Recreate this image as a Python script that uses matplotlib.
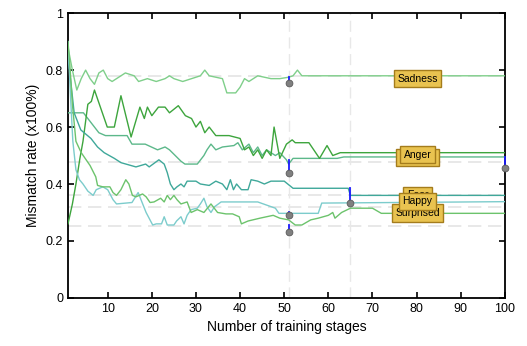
import matplotlib
matplotlib.use("Agg")
import matplotlib.pyplot as plt

plt.rcParams['font.family'] = ['Liberation Sans', 'DejaVu Sans']

# ---- data ----
sad_x = [1, 2, 3, 4, 5, 6, 7, 8, 9, 10, 11, 12, 14, 16, 17, 19, 21, 23, 24, 25,
         27, 29, 31, 32, 33, 36, 37, 39, 40, 41, 42, 44, 47, 49, 51, 52, 53, 54, 100]
sad_y = [.88, .80, .73, .77, .80, .77, .75, .79, .80, .77, .76, .77, .79, .78, .76, .77, .76, .77, .78, .77,
         .76, .77, .78, .80, .78, .77, .72, .72, .74, .77, .76, .78, .77, .77, .775, .78, .80, .78, .78]

ang_x = [1, 2, 2.8, 3.7, 4.4, 5.5, 6.3, 7, 9.9, 11.5, 13, 15.3, 17.3, 18.3, 19, 20, 21.5, 23, 24, 26,
         27.6, 29, 30, 31, 32, 33, 34.5, 37.5, 40, 41, 42, 43, 44, 45, 46, 47, 47.7, 49, 50.5, 51.8,
         52.5, 55.6, 58, 59.7, 61, 62.7, 100]
ang_y = [.26, .33, .40, .49, .55, .68, .69, .73, .60, .60, .71, .565, .67, .63, .67, .64, .67, .67, .65, .675,
         .64, .63, .60, .62, .58, .60, .57, .57, .56, .52, .53, .50, .52, .49, .52, .50, .60, .49, .54, .555,
         .545, .545, .49, .535, .50, .51, .51]

dis_x = [1, 4.5, 8, 9.5, 14.4, 15.5, 18.5, 21.3, 23, 24, 26.6, 27.5, 30.3, 31.8, 32.5, 33.4, 34.5, 36,
         38.6, 39.5, 40.5, 42, 43, 44, 45, 46, 48, 49, 50.5, 51, 52, 62, 63.5, 100]
dis_y = [.65, .65, .58, .57, .57, .54, .54, .52, .53, .52, .48, .47, .47, .50, .52, .54, .52, .53,
         .535, .545, .52, .54, .51, .53, .50, .52, .50, .51, .485, .47, .49, .49, .495, .495]

fear_x = [1, 2.4, 3.9, 6.2, 7.7, 9.2, 11.5, 13, 16.4, 18.6, 19.4, 21.6, 22.8, 23.5, 24.2, 25, 25.7,
          26.6, 27.3, 28, 30, 31, 33, 34.5, 36, 37, 37.8, 38.5, 39.2, 40.3, 41.8, 42.5, 44, 45.5, 47,
          50, 52, 64.5, 65, 100]
fear_y = [.85, .65, .59, .56, .53, .51, .49, .475, .46, .47, .46, .485, .47, .44, .40, .38, .39,
          .40, .39, .41, .41, .40, .395, .41, .40, .38, .415, .38, .40, .38, .38, .415, .41, .40, .41,
          .41, .385, .385, .36, .36]

hap_x = [1, 1.6, 2.1, 2.8, 3.6, 4.4, 5.5, 6.7, 7.4, 8.9, 10, 11.2, 12, 15.5, 16.9, 18.7, 20.2, 21,
         22.2, 22.8, 23.5, 25, 25.6, 26.6, 27.3, 28, 28.9, 30.3, 31, 31.8, 32.5, 33.4, 34.2, 35.7,
         44, 48, 48.8, 57.7, 58.5, 100]
hap_y = [.90, .70, .55, .45, .415, .40, .375, .36, .38, .39, .38, .345, .33, .335, .37, .30, .256, .26,
         .26, .285, .256, .256, .27, .285, .26, .29, .31, .315, .33, .35, .32, .30, .32, .337,
         .337, .315, .297, .297, .333, .338]

sur_x = [1, 1.5, 2, 2.8, 4, 6, 7.3, 7.7, 8.9, 10.5, 11.2, 12, 13, 14.1, 14.8, 15.6, 16.4, 17.9, 18.7,
         19.6, 20.5, 22, 22.8, 23.5, 24.2, 25, 25.7, 26.6, 28, 28.9, 30.3, 31.8, 33.4, 34.9, 36.8,
         38.3, 39.8, 40.3, 41.8, 44.5, 47.5, 49, 51, 52.5, 54, 55, 56, 57.7, 60, 61, 61.5, 63, 65,
         70, 72, 100]
sur_y = [.90, .80, .68, .55, .51, .465, .425, .395, .39, .39, .37, .36, .38, .415, .40, .36, .355, .365, .355,
         .335, .337, .35, .337, .36, .345, .36, .345, .33, .337, .30, .31, .30, .33, .30, .295,
         .295, .285, .26, .27, .28, .29, .28, .274, .256, .256, .265, .274, .28, .29, .30, .28, .30, .315,
         .315, .297, .297]

# stem markers: (x, line value, marker value)
stem_x = [51, 51, 51, 51, 65, 100]
stem_top = [.775, .485, .30, .256, .385, .495]
stem_bot = [.755, .44, .29, .233, .332, .455]

ref_levels = [.78, .478, .36, .32, .253]
ref_stages = [51, 65]

labels = ['Sadness', 'Disgust', 'Anger', 'Fear', 'Surprised', 'Happy']
label_y = [.77, .492, .503, .36, .298, .339]

fig = plt.figure(figsize=(5.27, 3.46), dpi=100)
ax = fig.add_axes([0.129, 0.139, 0.829, 0.823])

for lv in ref_levels:
    ax.axhline(lv, color='#e4e4e4', lw=1.2, ls=(0, (8, 4)), zorder=1)
for st in ref_stages:
    ax.axvline(st, color='#e8e8e8', lw=1.0, ls=(0, (8, 4)), zorder=1)

ax.plot(sad_x, sad_y, color='#7fcf8a', lw=1.0, zorder=3)
ax.plot(dis_x, dis_y, color='#5cb88a', lw=1.0, zorder=3)
ax.plot(ang_x, ang_y, color='#3da53d', lw=1.0, zorder=3)
ax.plot(fear_x, fear_y, color='#3fa89a', lw=1.0, zorder=3)
ax.plot(hap_x, hap_y, color='#7ccccc', lw=1.0, zorder=3)
ax.plot(sur_x, sur_y, color='#6cc36c', lw=1.0, zorder=3)

for sx, t, b in zip(stem_x, stem_top, stem_bot):
    ax.plot([sx, sx], [t, b], color='#1a1aff', lw=1.3, zorder=4, clip_on=False)
ax.scatter(stem_x, stem_bot, s=24, color='#808080', edgecolors='#5a5a5a',
           linewidths=0.6, zorder=5, clip_on=False)

for i, (lab, ly) in enumerate(zip(labels, label_y)):
    ax.text(80.2, ly, lab, fontsize=7.5, ha='center', va='center', zorder=10 + i,
            bbox=dict(boxstyle='square,pad=0.35', fc='#e9c350', ec='#a47c1c', lw=1.0))

ax.set_xlim(1, 100)
ax.set_ylim(0, 1)
ax.set_xticks([10, 20, 30, 40, 50, 60, 70, 80, 90, 100])
ax.set_yticks([0, 0.2, 0.4, 0.6, 0.8, 1])
ax.set_yticklabels(['0', '0.2', '0.4', '0.6', '0.8', '1'])
ax.tick_params(direction='in', length=4, top=True, right=True, labelsize=9, width=1.2)
for sp in ax.spines.values():
    sp.set_linewidth(1.3)
ax.set_xlabel('Number of training stages', fontsize=10)
ax.set_ylabel('Mismatch rate (x100%)', fontsize=10)

fig.savefig('out.png', dpi=100)
